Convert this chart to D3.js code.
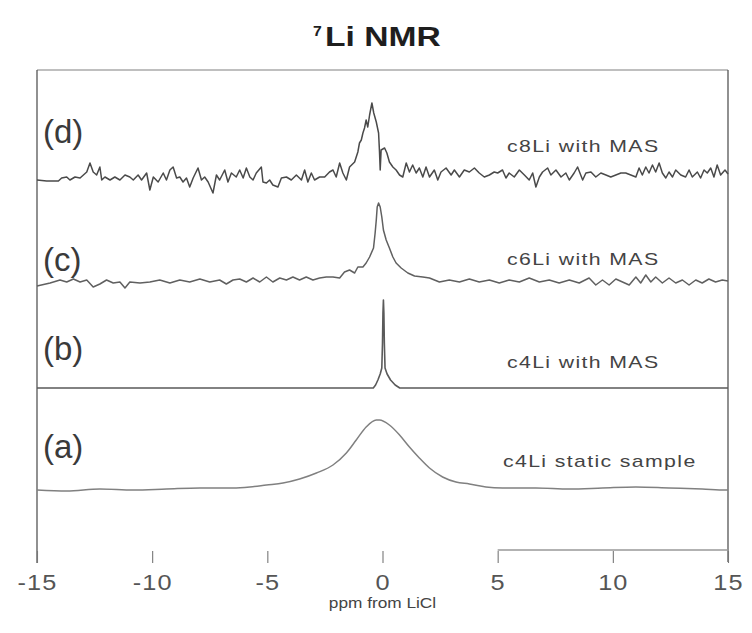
<!DOCTYPE html>
<html>
<head>
<meta charset="utf-8">
<script src="https://cdn.jsdelivr.net/npm/d3@7"></script>
<style>
  html, body { margin: 0; padding: 0; background: #fff; }
  svg { display: block; font-family: "Liberation Sans", Arial, sans-serif; }
</style>
</head>
<body>
<script>
// 7Li NMR spectra, chemical shift in ppm from LiCl, intensity in arbitrary units.

const ppmTicks   = [-15, -10, -5, 0, 5, 10, 15];
const tickLabels = ["-15", "-10", "-5", "0", "5", "10", "15"];

const traceIds    = ["a", "b", "c", "d"];
const panelTags   = ["(a)", "(b)", "(c)", "(d)"];
const sampleNames = ["c4Li static sample", "c4Li with MAS", "c6Li with MAS", "c8Li with MAS"];

// (a) c4Li, static
const spectrumA = [
  [-15,0],[-13.71,-1],[-12.27,1],[-10.82,0],[-9.38,1],[-7.93,2],[-6.49,2],[-5.76,3],
  [-5.04,5],[-4.32,7],[-3.60,11],[-2.87,17],[-2.15,25],[-1.57,37],[-1.14,50],[-0.71,63],
  [-0.27,70],[-0.13,70],[0.30,65],[0.74,55],[1.17,43],[1.60,32],[2.04,22],[2.61,13],
  [3.19,8],[3.77,6],[4.49,3],[5.21,2],[6.66,2],[8.11,1],[9.55,2],[11.0,3],[12.44,2],
  [13.88,1],[14.9,0],[15,0]
];

// (b) c4Li, MAS
const spectrumB = [
  [-15,0],[-10,0],[-5,0],[-0.40,0],[-0.30,3],[-0.20,8],[-0.10,14],[-0.03,20],[0.00,45],
  [0.02,75],[0.04,88],[0.06,75],[0.08,45],[0.11,20],[0.20,14],[0.35,8],[0.55,3],[0.75,0],
  [5,0],[10,0],[15,0]
];

// (c) c6Li, MAS
const spectrumC = [
  [-15.00,-3],[-14.43,0],[-14.00,3],[-13.71,1],[-13.42,4],[-13.13,1],[-12.84,3],[-12.56,-4],
  [-12.27,-1],[-11.98,3],[-11.69,0],[-11.40,1],[-11.18,-5],[-10.97,1],[-10.53,0],[-10.10,1],
  [-9.67,3],[-9.23,0],[-8.80,3],[-8.37,1],[-7.93,4],[-7.50,1],[-7.07,3],[-6.78,-1],
  [-6.49,3],[-6.20,4],[-5.91,1],[-5.62,5],[-5.33,1],[-5.04,6],[-4.76,1],[-4.46,5],
  [-4.17,3],[-3.89,6],[-3.60,3],[-3.31,6],[-3.02,3],[-2.73,5],[-2.44,6],[-2.15,6],
  [-1.86,5],[-1.65,11],[-1.43,13],[-1.21,10],[-1.07,16],[-0.85,16],[-0.71,20],[-0.56,26],
  [-0.39,35],[-0.32,50],[-0.27,63],[-0.23,76],[-0.17,80],[-0.10,76],[-0.03,66],[0.04,53],
  [0.16,43],[0.30,35],[0.45,26],[0.59,20],[0.81,15],[1.10,10],[1.39,7],[1.75,6],
  [2.04,5],[2.47,1],[2.90,3],[3.34,1],[3.77,4],[4.20,1],[4.64,3],[5.07,0],
  [5.50,3],[5.94,1],[6.37,5],[6.81,1],[7.24,3],[7.67,0],[8.11,3],[8.54,0],
  [8.97,5],[9.26,-2],[9.55,3],[9.84,-2],[10.13,4],[10.42,1],[10.71,-2],[11.00,6],
  [11.21,0],[11.43,8],[11.65,1],[11.86,6],[12.15,0],[12.44,5],[12.73,0],[13.02,3],
  [13.31,-2],[13.60,3],[13.88,0],[14.17,4],[14.46,1],[14.75,3],[15.00,2]
];

// (d) c8Li, MAS
const spectrumD = [
  [-15.00,0],[-14.58,-1],[-14.07,-1],[-13.93,2],[-13.71,3],[-13.57,0],[-13.35,3],[-13.13,2],
  [-12.84,8],[-12.70,17],[-12.56,8],[-12.41,5],[-12.27,13],[-12.19,0],[-12.05,3],[-11.83,0],
  [-11.62,3],[-11.40,0],[-11.18,5],[-10.97,3],[-10.82,0],[-10.61,5],[-10.46,0],[-10.24,7],
  [-10.10,-10],[-9.95,3],[-9.74,-2],[-9.52,7],[-9.38,0],[-9.23,10],[-9.09,13],[-8.94,2],
  [-8.80,3],[-8.66,-2],[-8.51,2],[-8.37,-7],[-8.22,2],[-8.01,12],[-7.86,0],[-7.72,3],
  [-7.57,-2],[-7.36,-13],[-7.21,5],[-7.07,0],[-6.85,10],[-6.71,-2],[-6.56,7],[-6.35,3],
  [-6.20,10],[-6.05,2],[-5.91,12],[-5.76,3],[-5.62,0],[-5.48,7],[-5.26,13],[-5.19,-2],
  [-5.04,-3],[-4.90,0],[-4.76,-5],[-4.54,-7],[-4.39,2],[-4.17,3],[-3.96,0],[-3.74,5],
  [-3.52,0],[-3.38,10],[-3.24,-2],[-3.09,7],[-2.95,0],[-2.73,3],[-2.51,3],[-2.30,8],
  [-2.15,10],[-2.01,3],[-1.86,17],[-1.72,7],[-1.57,0],[-1.43,13],[-1.21,18],[-1.07,28],
  [-1.00,37],[-0.92,40],[-0.85,47],[-0.78,52],[-0.71,60],[-0.64,53],[-0.56,65],[-0.46,77],
  [-0.38,67],[-0.27,58],[-0.17,47],[-0.13,28],[-0.10,10],[-0.06,30],[0.09,32],[0.19,27],
  [0.30,18],[0.45,13],[0.59,10],[0.74,5],[0.88,3],[1.03,17],[1.17,8],[1.31,15],
  [1.46,7],[1.60,12],[1.75,3],[1.89,13],[2.04,3],[2.25,10],[2.40,0],[2.54,8],
  [2.76,12],[2.98,5],[3.12,10],[3.34,3],[3.55,10],[3.77,8],[3.99,12],[4.20,7],
  [4.42,3],[4.64,5],[4.85,8],[5.00,7],[5.21,10],[5.36,2],[5.50,7],[5.72,3],
  [5.94,10],[6.16,5],[6.37,0],[6.52,7],[6.66,-7],[6.81,3],[6.95,8],[7.17,12],
  [7.31,5],[7.53,10],[7.75,3],[7.96,7],[8.11,0],[8.32,7],[8.47,13],[8.69,0],
  [8.83,7],[9.05,8],[9.26,3],[9.48,7],[9.70,5],[9.91,3],[10.13,5],[10.35,7],
  [10.56,7],[10.78,5],[11.00,3],[11.14,12],[11.28,5],[11.43,13],[11.57,7],[11.72,15],
  [11.86,8],[12.01,17],[12.15,7],[12.30,2],[12.44,8],[12.59,3],[12.73,10],[12.95,5],
  [13.16,3],[13.31,10],[13.45,3],[13.67,8],[13.81,2],[13.96,10],[14.10,7],[14.25,12],
  [14.39,3],[14.53,15],[14.68,5],[14.87,10],[15.00,6]
];

const spectra = [spectrumA, spectrumB, spectrumC, spectrumD];

// ---- layout ----
const W = 752, H = 633;
const plotLeft = 37, plotRight = 728, plotTop = 70, plotBottom = 563;
const axisY = 551;
const baselines = { a: 490, b: 388, c: 283, d: 180 };          // trace baselines (px)
const tagBaselines = { a: 458, b: 360, c: 271, d: 143 };       // "(x)" label baselines
const nameBaselines = { a: 467, b: 368, c: 265, d: 152 };      // sample label baselines
const nameX = { a: 503, b: 507, c: 507, d: 507 };
const traceColor = { a: "#808080", b: "#5a5a5a", c: "#606060", d: "#4a4a4a" };

const svg = d3.select("body").append("svg").attr("width", W).attr("height", H);

const x = d3.scaleLinear().domain([-15, 15]).range([plotLeft, plotRight]);
const y = d3.scaleLinear().domain([0, 100]).range([0, -100]);   // intensity -> offset above baseline

// wide, scan-like lettering: glyphs stretched horizontally
function wideText(parent, str, px, py, size, sx, opts = {}) {
  return parent.append("text")
    .attr("transform", `translate(${px},${py}) scale(${sx},1)`)
    .attr("text-anchor", opts.anchor || "start")
    .attr("font-size", size)
    .attr("font-weight", opts.weight || "normal")
    .attr("letter-spacing", opts.spacing || 0)
    .attr("fill", opts.fill || "#333")
    .text(str);
}

// title
wideText(svg, "7", 313, 36, 15, 1.05, { weight: "bold", fill: "#1e1e1e" });
wideText(svg, "Li NMR", 325, 46, 28, 1.2, { weight: "bold", fill: "#1e1e1e" });

// frame: top rule and side rules
svg.append("line")
  .attr("x1", x(-15)).attr("x2", x(15)).attr("y1", plotTop).attr("y2", plotTop)
  .attr("stroke", "#aaa").attr("stroke-width", 1.4);
svg.append("line")
  .attr("x1", x(-15)).attr("x2", x(-15)).attr("y1", plotTop).attr("y2", plotBottom)
  .attr("stroke", "#555").attr("stroke-width", 1.3);
svg.append("line")
  .attr("x1", x(15)).attr("x2", x(15)).attr("y1", plotTop).attr("y2", plotBottom - 1)
  .attr("stroke", "#555").attr("stroke-width", 1.3);

// spectra
const lineGen = d3.line().x(d => x(d[0])).y(d => y(d[1]));
const smoothGen = d3.line().x(d => x(d[0])).y(d => y(d[1])).curve(d3.curveMonotoneX);

traceIds.forEach((id, i) => {
  const g = svg.append("g").attr("transform", `translate(0,${baselines[id]})`);
  g.append("path")
    .datum(spectra[i])
    .attr("d", id === "a" ? smoothGen : lineGen)
    .attr("fill", "none")
    .attr("stroke", traceColor[id])
    .attr("stroke-width", id === "b" ? 1.6 : 1.5)
    .attr("stroke-linejoin", "round");

  svg.append("text")
    .attr("x", 43).attr("y", tagBaselines[id])
    .attr("font-size", 33).attr("fill", "#3a3a3a")
    .text(panelTags[i]);

  wideText(svg, sampleNames[i], nameX[id], nameBaselines[id], 17, 1.25, { spacing: 1.1, fill: "#444" });
});

// x axis
const axis = svg.append("g")
  .attr("transform", `translate(0,${axisY})`)
  .call(d3.axisBottom(x)
    .tickValues(ppmTicks)
    .tickSize(12)
    .tickFormat((d, i) => tickLabels[i]));
axis.select(".domain").remove();
axis.selectAll(".tick line").attr("stroke", "#777").attr("stroke-width", 1.1);
axis.selectAll(".tick text")
  .attr("y", 39).attr("dy", 0)
  .attr("font-size", 22)
  .attr("font-family", "Liberation Sans, Arial, sans-serif")
  .attr("letter-spacing", 1)
  .attr("fill", "#555")
  .attr("transform", "scale(1.15,1)");

// remaining visible stretch of the axis rule
svg.append("line")
  .attr("x1", x(5)).attr("x2", x(15)).attr("y1", axisY - 1).attr("y2", axisY - 1)
  .attr("stroke", "#999").attr("stroke-width", 1.3);

// axis title
wideText(svg, "ppm from LiCl", x(0), 608, 15, 1.15, { anchor: "middle", fill: "#444" });
</script>
</body>
</html>
